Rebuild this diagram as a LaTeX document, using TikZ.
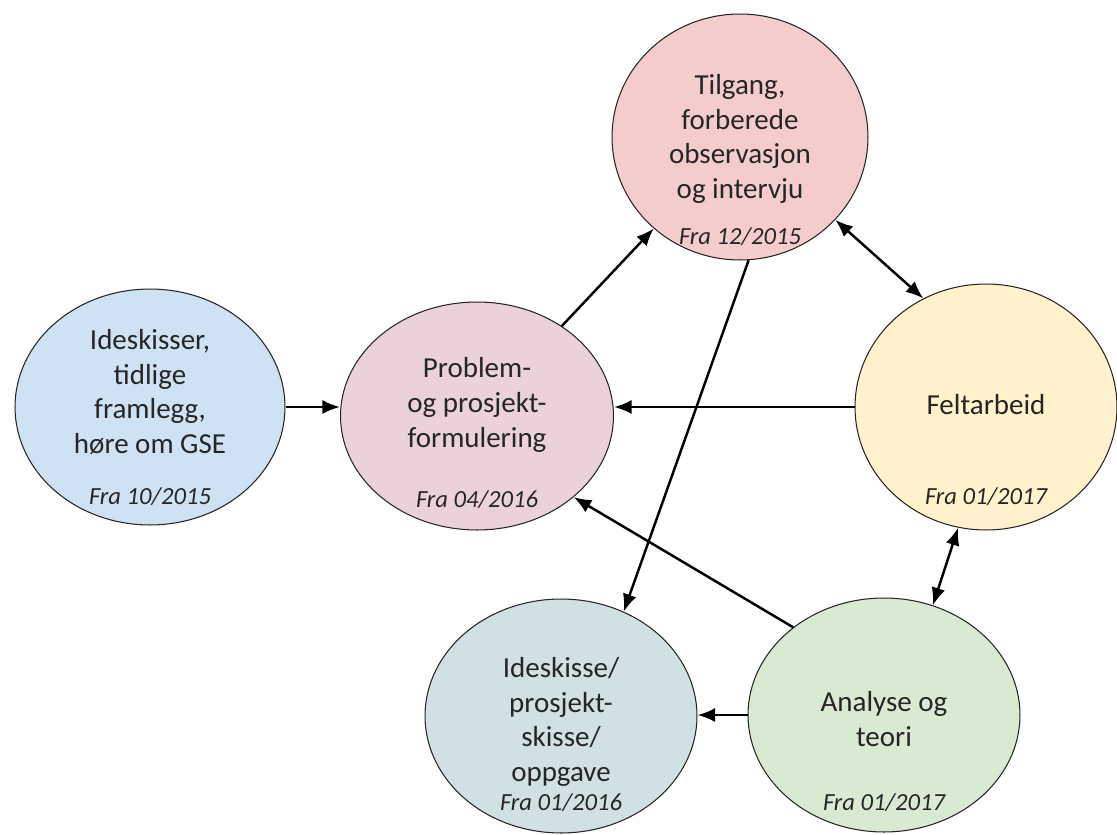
\documentclass[tikz,border=0pt]{standalone}
\usepackage{fontspec}
\setmainfont{Carlito}
\usetikzlibrary{shapes.geometric,arrows.meta}

\definecolor{ideblaa}{HTML}{CFE2F3}
\definecolor{problemrosa}{HTML}{EAD1DC}
\definecolor{tilgangrod}{HTML}{F4CCCC}
\definecolor{feltgul}{HTML}{FFF2CC}
\definecolor{skissegraa}{HTML}{D0E0E3}
\definecolor{analysegronn}{HTML}{D9EAD3}

\tikzset{
  fase/.style={ellipse, draw=black!85, line width=0.6pt, inner sep=0pt},
  fasetekst/.style={align=center, text=black!85, font=\fontsize{16.5}{19.8}\selectfont},
  dato/.style={text=black!85, font=\fontsize{14}{16}\selectfont\itshape},
  pil/.style={line width=1.4pt, -{Latex[length=10pt,width=8pt]}},
  dobbelpil/.style={line width=1.4pt, {Latex[length=10pt,width=8pt]}-{Latex[length=10pt,width=8pt]}}
}

\begin{document}
\begin{tikzpicture}[x=0.02cm,y=-0.02cm]
\useasboundingbox (0,0) rectangle (1117,835);

% faser
\node[fase, fill=ideblaa, minimum width=5.4cm, minimum height=4.72cm] (ideer) at (150,407) {};
\node[fase, fill=problemrosa, minimum width=5.46cm, minimum height=4.56cm] (problem) at (477,416) {};
\node[fase, fill=tilgangrod, minimum width=5.12cm, minimum height=4.92cm] (tilgang) at (740,137) {};
\node[fase, fill=feltgul, minimum width=5.24cm, minimum height=4.92cm] (feltarbeid) at (986,407) {};
\node[fase, fill=skissegraa, minimum width=5.44cm, minimum height=4.68cm] (ideskisse) at (561,716) {};
\node[fase, fill=analysegronn, minimum width=5.44cm, minimum height=4.68cm] (analyse) at (884,715) {};

% tekst
\node[fasetekst] (ideer-txt) at (150,392) {Ideskisser,\\tidlige\\framlegg,\\høre om GSE};
\node[fasetekst] (problem-txt) at (477,405) {Problem-\\og prosjekt-\\formulering};
\node[fasetekst] (tilgang-txt) at (740,139) {Tilgang,\\forberede\\observasjon\\og intervju};
\node[fasetekst] (feltarbeid-txt) at (986,405) {Feltarbeid};
\node[fasetekst] (ideskisse-txt) at (561,722) {Ideskisse/\\prosjekt-\\skisse/\\oppgave};
\node[fasetekst] (analyse-txt) at (884,719) {Analyse og\\teori};

% datoer
\node[dato] (ideer-dato) at (150,497) {Fra 10/2015};
\node[dato] (problem-dato) at (477,500) {Fra 04/2016};
\node[dato] (tilgang-dato) at (740,237) {Fra 12/2015};
\node[dato] (feltarbeid-dato) at (986,497) {Fra 01/2017};
\node[dato] (ideskisse-dato) at (561,803) {Fra 01/2016};
\node[dato] (analyse-dato) at (884,803) {Fra 01/2017};

% piler
\draw[pil] (ideer.east) -- (ideer.east -| problem.west);
\draw[pil] (problem) -- (tilgang);
\draw[dobbelpil] (tilgang.-41) -- (feltarbeid.120);
\draw[pil] (feltarbeid.west) -- (feltarbeid.west -| problem.east);
\draw[pil] (tilgang.-86) -- (ideskisse.59);
\draw[pil] (analyse.136) -- (problem.-40);
\draw[dobbelpil] (feltarbeid.-103) -- (analyse.66);
\draw[pil] (analyse.west) -- (analyse.west -| ideskisse.east);
\end{tikzpicture}
\end{document}
